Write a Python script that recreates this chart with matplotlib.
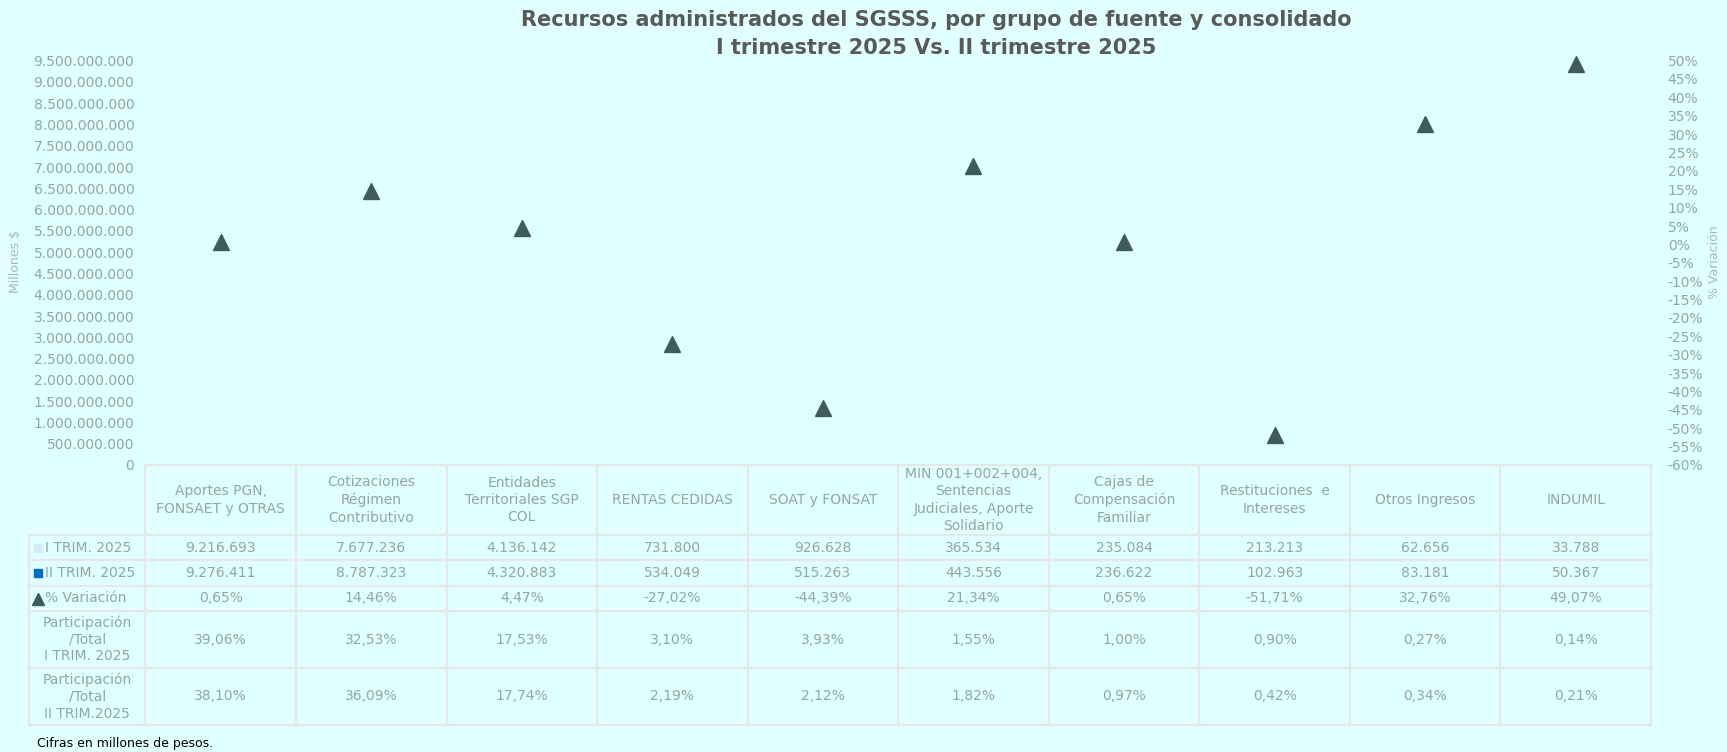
import numpy as np
import matplotlib.pyplot as plt
from matplotlib.ticker import FuncFormatter, MultipleLocator

categorias = ["Aportes PGN,\nFONSAET y OTRAS", "Cotizaciones\nRégimen\nContributivo",
              "Entidades\nTerritoriales SGP\nCOL", "RENTAS CEDIDAS", "SOAT y FONSAT",
              "MIN 001+002+004,\nSentencias\nJudiciales, Aporte\nSolidario",
              "Cajas de\nCompensación\nFamiliar", "Restituciones  e\nIntereses",
              "Otros Ingresos", "INDUMIL"]
trim1 = [9216693, 7677236, 4136142, 731800, 926628, 365534, 235084, 213213, 62656, 33788]
trim2 = [9276411, 8787323, 4320883, 534049, 515263, 443556, 236622, 102963, 83181, 50367]
variacion = [0.65, 14.46, 4.47, -27.02, -44.39, 21.34, 0.65, -51.71, 32.76, 49.07]
part1 = [39.06, 32.53, 17.53, 3.10, 3.93, 1.55, 1.00, 0.90, 0.27, 0.14]
part2 = [38.10, 36.09, 17.74, 2.19, 2.12, 1.82, 0.97, 0.42, 0.34, 0.21]

bg = "#e1ffff"
txt = "#8fa7a7"
grid = "#e4e8e8"
c1 = "#d4ecf7"
c2 = "#0070c0"
ctri = "#3f5a5c"

W, H = 1727, 752
fig = plt.figure(figsize=(W / 100, H / 100), dpi=100, facecolor=bg)

def fmt_miles(v):
    return f"{int(round(v)):,}".replace(",", ".")

def fmt_pct(v):
    return f"{v:.2f}%".replace(".", ",")

# zona del grafico
x0, x1, y0, y1 = 145.4, 1651, 60.6, 465
ax = fig.add_axes([x0 / W, 1 - y1 / H, (x1 - x0) / W, (y1 - y0) / H])
ax.set_facecolor(bg)
x = np.arange(len(categorias))
ax.bar(x - 0.2, trim1, width=0.4, color=c1)
ax.bar(x + 0.2, trim2, width=0.4, color=c2)
ax.set_xlim(-0.5, len(categorias) - 0.5)
ax.set_ylim(0, 9.5e9)
ax.yaxis.set_major_locator(MultipleLocator(5e8))
ax.yaxis.set_major_formatter(FuncFormatter(lambda v, p: fmt_miles(v)))
ax.set_xticks([])
ax.tick_params(axis="y", length=0, colors=txt, labelsize=10, pad=8)
for s in ax.spines.values():
    s.set_visible(False)

ax2 = ax.twinx()
ax2.plot(x, variacion, "^", color=ctri, markersize=11, linestyle="none",
         zorder=5, clip_on=False)
ax2.set_ylim(-60, 50)
ax2.yaxis.set_major_locator(MultipleLocator(5))
ax2.yaxis.set_major_formatter(FuncFormatter(lambda v, p: f"{v:.0f}%"))
ax2.tick_params(axis="y", length=0, colors=txt, labelsize=10, pad=12)
for s in ax2.spines.values():
    s.set_visible(False)

fig.text(16 / W, 1 - 262 / H, "Millones $", rotation=90, color="#a8b8b8",
         fontsize=9, ha="center", va="center")
fig.text(1715 / W, 1 - 262 / H, "% Variación", rotation=90, color="#a8b8b8",
         fontsize=9, ha="center", va="center")

fig.text(936 / W, 1 - 20 / H, "Recursos administrados del SGSSS, por grupo de fuente y consolidado",
         ha="center", va="center", fontsize=15, fontweight="bold", color="#595959")
fig.text(936 / W, 1 - 48 / H, "I trimestre 2025 Vs. II trimestre 2025",
         ha="center", va="center", fontsize=15, fontweight="bold", color="#595959")

# tabla de datos en pixeles
tb = fig.add_axes([0, 0, 1, 1], facecolor="none")
tb.set_xlim(0, W)
tb.set_ylim(H, 0)
tb.axis("off")

lab_l = 29
cols = np.linspace(x0, x1, len(categorias) + 1)
rows = [465, 535, 560, 586, 611, 668, 725]
lw = 1.6

tb.plot([x0, x1], [rows[0], rows[0]], color=grid, lw=lw)
for r in rows[1:]:
    tb.plot([lab_l, x1], [r, r], color=grid, lw=lw)
tb.plot([lab_l, lab_l], [rows[1], rows[-1]], color=grid, lw=lw)
for c in cols:
    tb.plot([c, c], [rows[0], rows[-1]], color=grid, lw=lw)

fs = 10
centers = (cols[:-1] + cols[1:]) / 2
for i, c in enumerate(centers):
    tb.text(c, (rows[0] + rows[1]) / 2, categorias[i], ha="center", va="center",
            fontsize=fs, color=txt, linespacing=1.3)

valores = [[fmt_miles(v) for v in trim1], [fmt_miles(v) for v in trim2],
           [fmt_pct(v) for v in variacion], [fmt_pct(v) for v in part1],
           [fmt_pct(v) for v in part2]]
for j, fila in enumerate(valores):
    ym = (rows[j + 1] + rows[j + 2]) / 2
    for i, c in enumerate(centers):
        tb.text(c, ym, fila[i], ha="center", va="center", fontsize=fs, color=txt)

ym = [(rows[k] + rows[k + 1]) / 2 for k in range(1, 6)]
tb.plot(38, ym[0], "s", color=c1, markersize=6)
tb.text(45, ym[0], "I TRIM. 2025", ha="left", va="center", fontsize=fs, color=txt)
tb.plot(38, ym[1], "s", color=c2, markersize=6)
tb.text(45, ym[1], "II TRIM. 2025", ha="left", va="center", fontsize=fs, color=txt)
tb.plot(38, ym[2], "^", color=ctri, markersize=8)
tb.text(45, ym[2], "% Variación", ha="left", va="center", fontsize=fs, color=txt)
lc = (lab_l + x0) / 2
tb.text(lc, ym[3], "Participación\n/Total\nI TRIM. 2025", ha="center", va="center",
        fontsize=fs, color=txt, linespacing=1.25)
tb.text(lc, ym[4], "Participación\n/Total\nII TRIM.2025", ha="center", va="center",
        fontsize=fs, color=txt, linespacing=1.25)

fig.text(37 / W, 1 - 744 / H, "Cifras en millones de pesos.", ha="left", va="center",
         fontsize=9, color="black")

fig.savefig("out.png", dpi=100, facecolor=bg)
